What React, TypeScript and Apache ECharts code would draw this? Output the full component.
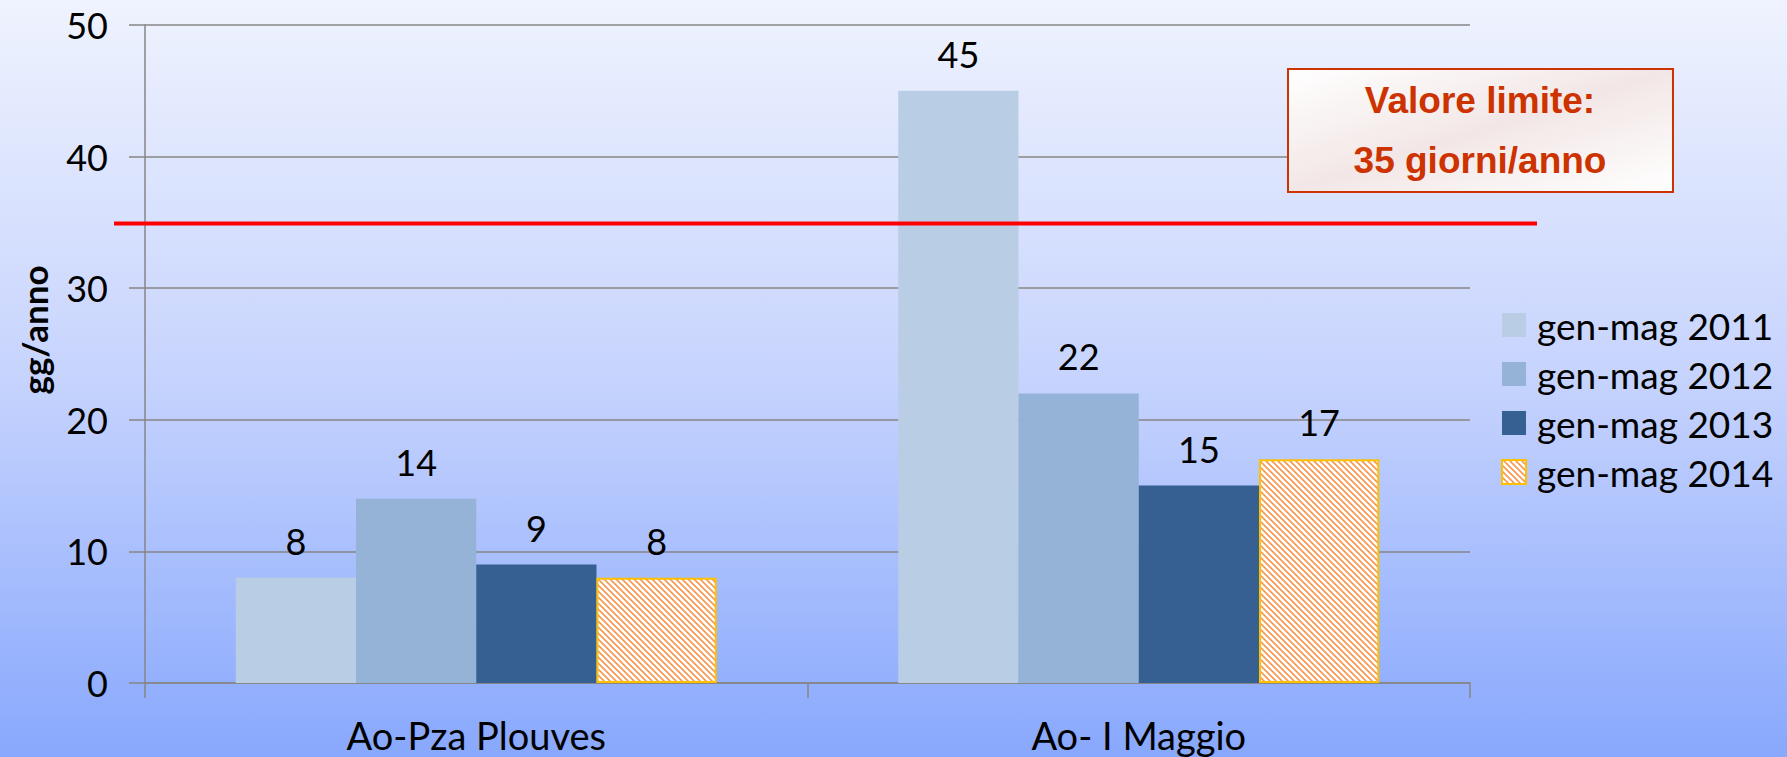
import React, { useEffect, useRef } from "react";
import * as echarts from "echarts";

const categories = ["Ao-Pza Plouves", "Ao- I Maggio"];
const seriesNames = ["gen-mag 2011", "gen-mag 2012", "gen-mag 2013", "gen-mag 2014"];
const values2011 = [8, 45];
const values2012 = [14, 22];
const values2013 = [9, 15];
const values2014 = [8, 17];
const yTicks = [0, 10, 20, 30, 40, 50];
const LIMIT = 35;
const limitLines = ["Valore limite:", "35 giorni/anno"];
const yAxisTitle = "gg/anno";

const FONT = "Lato";

function makeHatch(): HTMLCanvasElement {
  const c = document.createElement("canvas");
  c.width = 6;
  c.height = 6;
  const ctx = c.getContext("2d")!;
  const img = ctx.createImageData(6, 6);
  for (let y = 0; y < 6; y++) {
    for (let x = 0; x < 6; x++) {
      const k = (((x - y) % 6) + 6) % 6;
      const i = (y * 6 + x) * 4;
      let r = 255, g = 255, b = 255;
      if (k === 1) { r = 248; g = 150; b = 80; }
      else if (k === 0 || k === 2) { r = 250; g = 185; b = 135; }
      img.data[i] = r; img.data[i + 1] = g; img.data[i + 2] = b; img.data[i + 3] = 255;
    }
  }
  ctx.putImageData(img, 0, 0);
  return c;
}

export default function App() {
  const ref = useRef<HTMLDivElement>(null);
  useEffect(() => {
    document.body.style.margin = "0";
    const chart = echarts.init(ref.current!, null, { renderer: "svg" });
    const hatch = makeHatch();
    const labelCfg = {
      show: true,
      position: "top" as const,
      distance: 19,
      color: "#000",
      fontFamily: FONT,
      fontSize: 36,
    };
    const colors = ["#b9cde4", "#95b3d7", "#376092"];
    const datas = [values2011, values2012, values2013, values2014];
    const series: any[] = datas.map((d, i) => ({
      name: seriesNames[i],
      type: "bar",
      data: d,
      barGap: "0%",
      barCategoryGap: "27.4%",
      label: labelCfg,
      itemStyle:
        i < 3
          ? { color: colors[i] }
          : {
              color: { image: hatch, repeat: "repeat", imageWidth: 6, imageHeight: 6 },
              borderColor: "#ffc000",
              borderWidth: 2,
            },
    }));
    chart.setOption({
      animation: false,
      backgroundColor: {
        type: "linear",
        x: 0, y: 0, x2: 0, y2: 1,
        colorStops: [
          { offset: 0, color: "#eff3fe" },
          { offset: 0.5, color: "#c6d3fd" },
          { offset: 1, color: "#88a8fd" },
        ],
      },
      grid: { left: 145, top: 25, width: 1325, height: 658 },
      legend: {
        orient: "vertical",
        left: 1496,
        top: 300,
        itemWidth: 24,
        itemHeight: 24,
        itemGap: 9,
        icon: "rect",
        textStyle: { fontFamily: FONT, fontSize: 37, color: "#000", lineHeight: 40, padding: [0, 0, 0, 6] },
        data: seriesNames,
      },
      xAxis: {
        type: "category",
        data: categories,
        axisLine: { lineStyle: { color: "#868686", width: 1.5 } },
        axisTick: { show: true, length: 15, lineStyle: { color: "#868686", width: 1.5 } },
        axisLabel: { color: "#000", fontFamily: FONT, fontSize: 38, margin: 33 },
      },
      yAxis: {
        type: "value",
        min: yTicks[0],
        max: yTicks[yTicks.length - 1],
        interval: 10,
        axisLine: { show: true, lineStyle: { color: "#868686", width: 1.5 } },
        axisTick: { show: true, length: 16, lineStyle: { color: "#868686", width: 1.5 } },
        axisLabel: { color: "#000", fontFamily: FONT, fontSize: 36, margin: 37 },
        splitLine: { lineStyle: { color: "#868686", width: 1.5 } },
      },
      series,
    });
    const yLimit = chart.convertToPixel({ yAxisIndex: 0 }, LIMIT) as number;
    chart.setOption({
      graphic: [
        {
          type: "line",
          shape: { x1: 114, y1: yLimit + 1, x2: 1537, y2: yLimit + 1 },
          style: { stroke: "#ff0000", lineWidth: 4 },
          z: 10,
        },
        {
          type: "rect",
          shape: { x: 1288, y: 69, width: 385, height: 123 },
          style: {
            fill: {
              type: "linear",
              x: 0, y: 0, x2: 1, y2: 1,
              colorStops: [
                { offset: 0, color: "#ffffff" },
                { offset: 0.5, color: "#f2e7e6" },
                { offset: 1, color: "#ffffff" },
              ],
            },
            stroke: "#cc3300",
            lineWidth: 2,
          },
          z: 10,
        },
        {
          type: "text",
          x: 1480,
          y: 100,
          style: {
            text: limitLines[0],
            fill: "#cc3300",
            font: "bold 37px 'Liberation Sans', Arial, sans-serif",
            textAlign: "center",
            textVerticalAlign: "middle",
          },
          z: 11,
        },
        {
          type: "text",
          x: 1480,
          y: 160,
          style: {
            text: limitLines[1],
            fill: "#cc3300",
            font: "bold 37px 'Liberation Sans', Arial, sans-serif",
            textAlign: "center",
            textVerticalAlign: "middle",
          },
          z: 11,
        },
        {
          type: "text",
          x: 34,
          y: 330,
          rotation: Math.PI / 2,
          style: {
            text: yAxisTitle,
            fill: "#000",
            font: `bold 35px ${FONT}`,
            textAlign: "center",
            textVerticalAlign: "middle",
          },
          z: 11,
        },
      ],
    });
    return () => chart.dispose();
  }, []);
  return <div ref={ref} style={{ position: "absolute", left: 0, top: 0, width: 1787, height: 757 }} />;
}
